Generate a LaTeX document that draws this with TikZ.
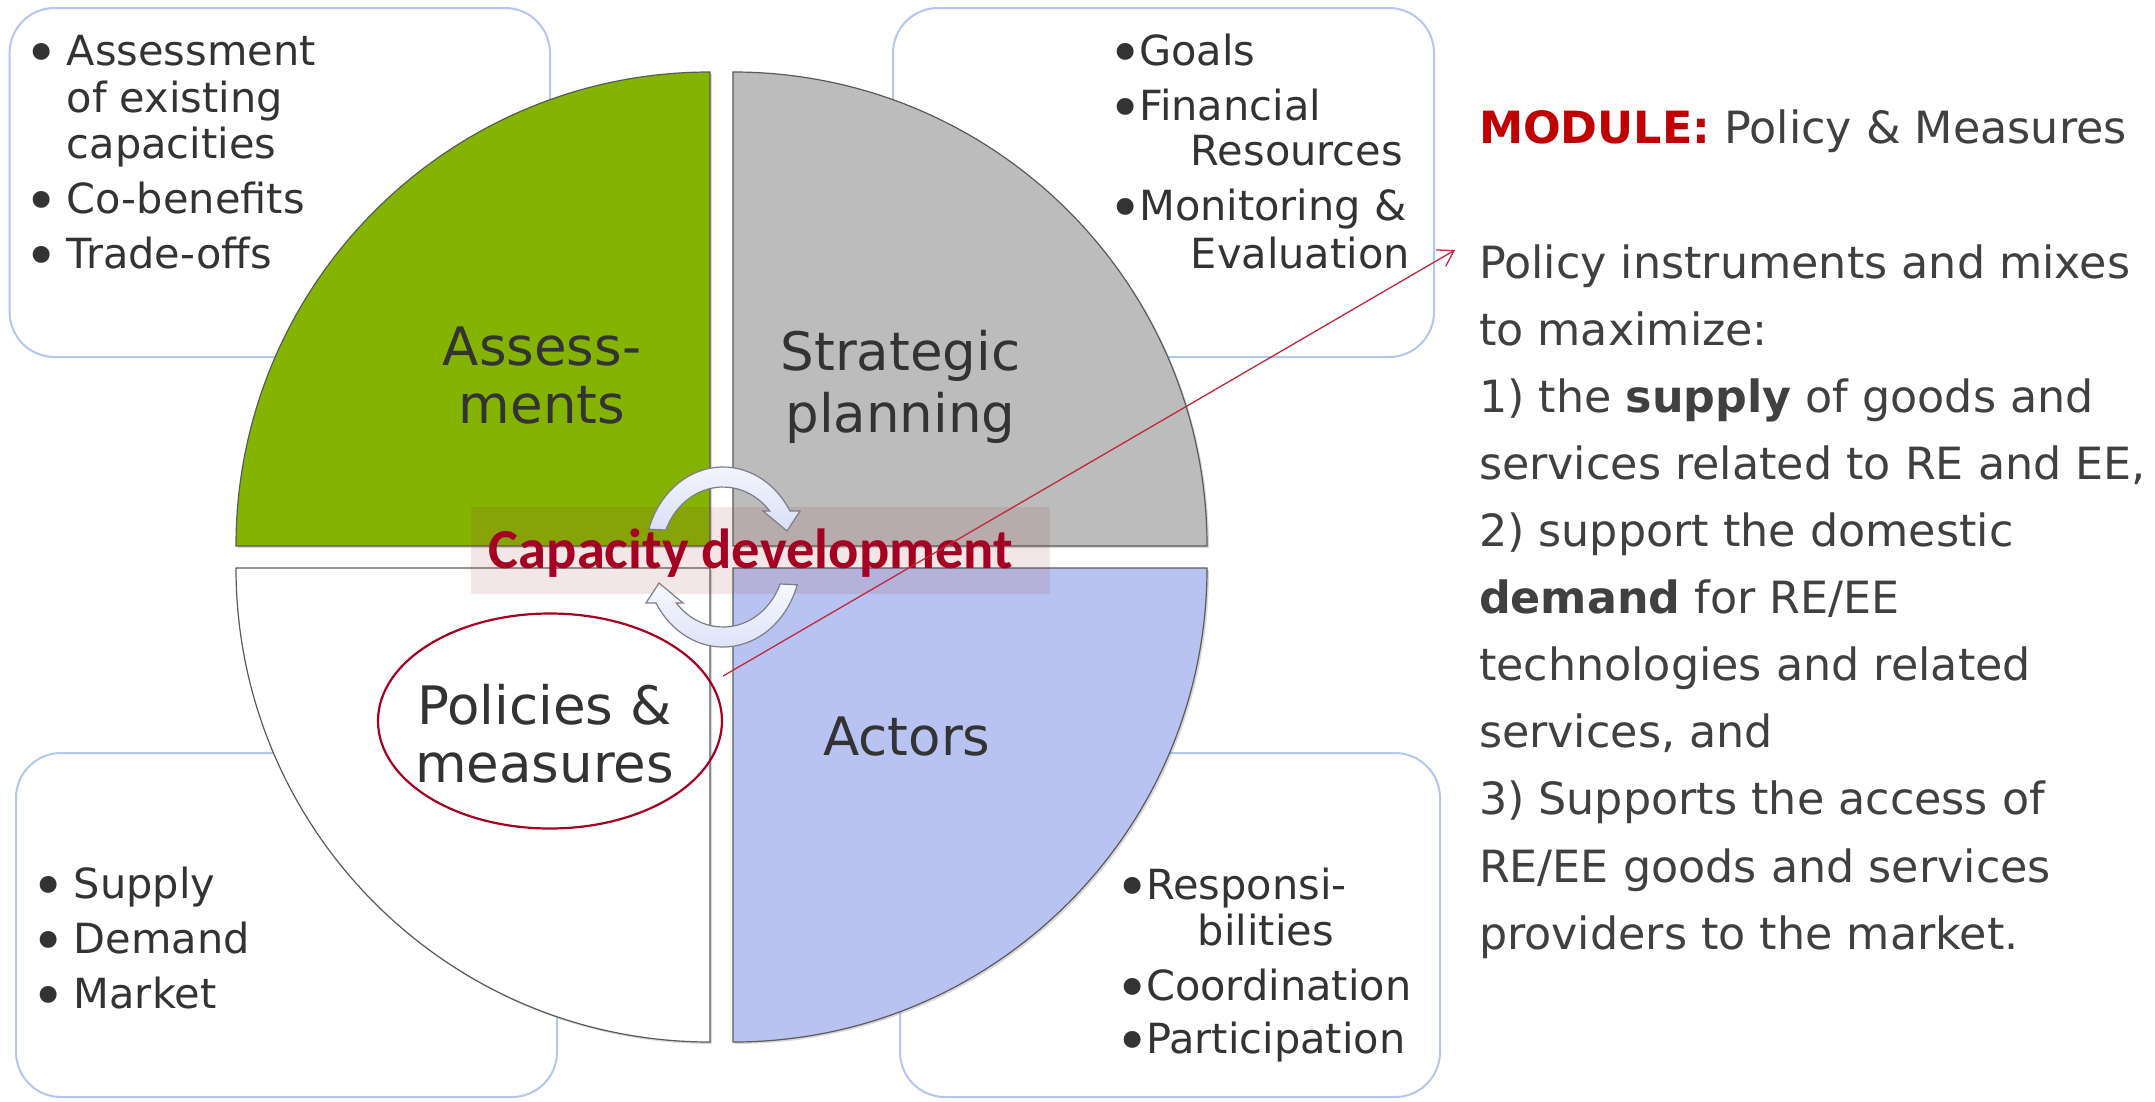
\documentclass[tikz,border=0pt]{standalone}
\usepackage{fontspec}
\setmainfont{DejaVu Sans}
\newfontfamily\carlito{Carlito}
\usetikzlibrary{arrows.meta,shapes.geometric,shadows}

\definecolor{qgreen}{RGB}{132,180,0}
\definecolor{qgray}{RGB}{188,188,188}
\definecolor{qblue}{RGB}{184,195,242}
\definecolor{quadline}{RGB}{90,90,90}
\definecolor{boxline}{RGB}{180,198,240}
\definecolor{txtdark}{RGB}{51,51,51}
\definecolor{txtgray}{RGB}{64,64,64}
\definecolor{capred}{RGB}{165,0,33}
\definecolor{modred}{RGB}{192,0,0}
\definecolor{linered}{RGB}{192,40,60}
\definecolor{arrowfillA}{RGB}{247,248,254}
\definecolor{arrowfillB}{RGB}{218,223,246}
\definecolor{arrowline}{RGB}{125,125,135}
\definecolor{pinkband}{RGB}{153,51,51}

\newcommand\bul{\raisebox{-0.2em}{\scalebox{1.4}{•}}}

\begin{document}
\begin{tikzpicture}[x=1pt,y=-1pt,
  infobox/.style={draw=boxline, line width=2pt, fill=white, rounded corners=45pt},
  quad/.style={draw=quadline, line width=1.2pt, drop shadow={shadow xshift=2pt,shadow yshift=-2pt,opacity=0.3}},
  bt/.style={inner sep=0pt, anchor=base west, text=txtdark, font=\fontsize{41.5}{50}\selectfont},
  ql/.style={inner sep=0pt, anchor=base, text=txtdark, font=\fontsize{53}{60}\selectfont},
  rt/.style={inner sep=0pt, anchor=base west, text=txtgray, font=\fontsize{44.4}{67}\selectfont},
  cyc/.style={draw=arrowline, line width=1.2pt, top color=arrowfillA, bottom color=arrowfillB},
]
\useasboundingbox (0,0) rectangle (2155,1101);
\fill[white] (0,0) rectangle (2155,1101);

% information boxes
\draw[infobox] (9.6,8) rectangle (550,357);
\draw[infobox] (893,8) rectangle (1434,357);
\draw[infobox] (16,753) rectangle (557,1097);
\draw[infobox] (900,753) rectangle (1440,1097);

% quadrants
\path[quad, fill=qgreen] (710,546) -- (236,546) arc[start angle=180, end angle=270, radius=474] -- cycle;
\path[quad, fill=qgray] (733,546) -- (733,72) arc[start angle=270, end angle=360, radius=474] -- cycle;
\path[quad, fill=qblue] (733,568) -- (1207,568) arc[start angle=0, end angle=90, radius=474] -- cycle;
\path[quad, fill=white] (710,568) -- (710,1042) arc[start angle=90, end angle=180, radius=474] -- cycle;

% band behind the title
\fill[pinkband, opacity=0.12] (470.6,506.7) rectangle (1050,594);

% cycle arrows
\path[cyc] (648.8,529.2) arc[start angle=198, end angle=329.3, x radius=78, y radius=90]
  -- (800,511) -- (787,531) -- (763,511) -- (769.8,511.1)
  arc[start angle=319, end angle=202.7, x radius=62, y radius=70] -- cycle;
\path[cyc] (797.2,584.8) arc[start angle=18, end angle=149.3, x radius=78, y radius=90]
  -- (646,603) -- (659,583) -- (683,603) -- (676.2,602.9)
  arc[start angle=139, end angle=22.7, x radius=62, y radius=70] -- cycle;

\node[inner sep=0pt, anchor=base, text=capred, font=\carlito\bfseries\fontsize{56.5}{60}\selectfont] (cap) at (751,568) {Capacity development};

% quadrant labels
\node[ql] (as1) at (542,365) {Assess-};
\node[ql] (as2) at (542,423.5) {ments};
\node[ql] (sp1) at (900.5,370.6) {Strategic};
\node[ql] (sp2) at (900.5,432) {planning};
\node[ql] (pm1) at (544.5,724.5) {Policies \&};
\node[ql] (pm2) at (544.5,782) {measures};
\node[ql] (ac) at (907,755) {Actors};

\node[ellipse, draw=capred, line width=2.2pt, minimum width=344pt, minimum height=215pt, inner sep=0pt] (pm) at (550,721) {};

% box texts
\node[bt] (tl1) at (15.4,65) {\makebox[51.2pt][c]{\bul}Assessment};
\node[bt] (tl2) at (66.6,112) {of existing};
\node[bt] (tl3) at (66.6,158) {capacities};
\node[bt] (tl4) at (15.4,213) {\makebox[51.2pt][c]{\bul}Co-benefits};
\node[bt] (tl5) at (15.4,268) {\makebox[51.2pt][c]{\bul}Trade-offs};

\node[bt] (tr1) at (1112,65) {\makebox[27pt][c]{\bul}Goals};
\node[bt] (tr2) at (1112,120) {\makebox[27pt][c]{\bul}Financial};
\node[bt] (tr3) at (1190.7,165) {Resources};
\node[bt] (tr4) at (1112,220) {\makebox[27pt][c]{\bul}Monitoring \&};
\node[bt] (tr5) at (1190.7,268) {Evaluation};

\node[bt] (bl1) at (22.5,898) {\makebox[51pt][c]{\bul}Supply};
\node[bt] (bl2) at (22.5,953) {\makebox[51pt][c]{\bul}Demand};
\node[bt] (bl3) at (22.5,1008) {\makebox[51pt][c]{\bul}Market};

\node[bt] (br1) at (1119,899) {\makebox[27pt][c]{\bul}Responsi-};
\node[bt] (br2) at (1197.6,945) {bilities};
\node[bt] (br3) at (1119,1000) {\makebox[27pt][c]{\bul}Coordination};
\node[bt] (br4) at (1119,1053) {\makebox[27pt][c]{\bul}Participation};

% right-hand text
\node[rt] (mod) at (1478.8,143) {\textcolor{modred}{\textbf{MODULE:}} Policy \& Measures};
\node[rt] (r1) at (1478.8,278) {Policy instruments and mixes};
\node[rt] (r2) at (1478.8,345) {to maximize:};
\node[rt] (r3) at (1478.8,412) {1) the \textbf{supply} of goods and};
\node[rt] (r4) at (1478.8,479) {services related to RE and EE,};
\node[rt] (r5) at (1478.8,546) {2) support the domestic};
\node[rt] (r6) at (1478.8,613) {\textbf{demand} for RE/EE};
\node[rt] (r7) at (1478.8,680) {technologies and related};
\node[rt] (r8) at (1478.8,747) {services, and};
\node[rt] (r9) at (1478.8,814) {3) Supports the access of};
\node[rt] (r10) at (1478.8,882) {RE/EE goods and services};
\node[rt] (r11) at (1478.8,949) {providers to the market.};

% pointer
\coordinate (tip) at (1455,250);
\draw[linered, line width=1.3pt, -{Straight Barb[length=15pt,width=19pt]}] ([yshift=45pt]pm.east) -- (tip);
\end{tikzpicture}
\end{document}
